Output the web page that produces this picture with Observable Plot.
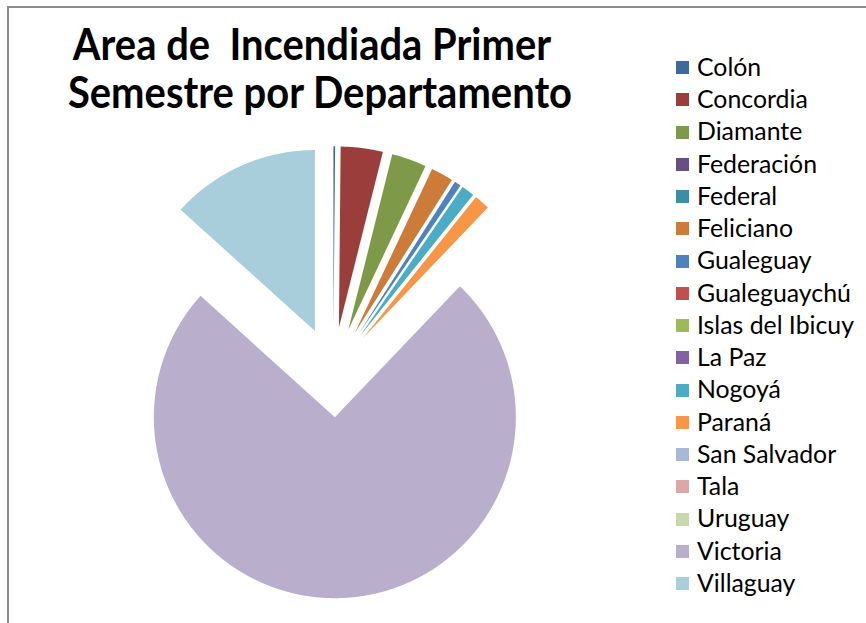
<!DOCTYPE html>
<html>
<head>
<meta charset="utf-8">
<script src="https://cdn.jsdelivr.net/npm/d3@7"></script>
<script src="https://cdn.jsdelivr.net/npm/@observablehq/plot@0.6"></script>
<style>
  html, body { margin: 0; padding: 0; background: #fff; }
  body { width: 866px; height: 623px; position: relative; overflow: hidden; font-family: Lato, "Open Sans", sans-serif; }
  #frame { position: absolute; left: 7px; top: 6px; width: 900px; height: 700px; border-top: 2px solid #8c8c8c; border-left: 2px solid #8c8c8c; }
  #chart { position: absolute; left: 140px; top: 125px; }
  .t { position: absolute; white-space: pre; color: #000; font-weight: 700; text-align: center; width: 640px; transform-origin: 50% 50%; }
  .lg { position: absolute; white-space: pre; color: #000; }
  .sw { position: absolute; width: 13px; height: 13px; }
</style>
</head>
<body>
<div id="frame"></div>
<div id="chart"></div>
<script>
// ---- data ----
const departments = ["Colón","Concordia","Diamante","Federación","Federal","Feliciano","Gualeguay","Gualeguaychú","Islas del Ibicuy","La Paz","Nogoyá","Paraná","San Salvador","Tala","Uruguay","Victoria","Villaguay"];
const hectares = [153, 3750, 3111, 0, 0, 1986, 583, 0, 0, 0, 1167, 1389, 0, 0, 0, 74556, 13306];
const sliceColors = ["#3E699D","#9B3D3A","#7E9A48","#654F84","#3A8FA6","#CC7B38","#4F81BD","#C0504D","#9BBB59","#8064A2","#4BACC6","#F79646","#A7B9D9","#DBA8A7","#C7D8AC","#B9AFCC","#A8CEDC"];
const titleLines = ["Area de  Incendiada Primer", "Semestre por Departamento"];

// ---- geometry of exploded pie (unit radius) ----
const table = departments.map((name, i) => ({name, value: hectares[i]}));
const arcs = d3.pie().sort(null).value(d => d.value).startAngle(0).endAngle(2 * Math.PI)(table);
const explode = 45 / 181;
const pts = [];
for (const a of arcs) {
  const m = (a.startAngle + a.endAngle) / 2;
  const ox = explode * Math.sin(m), oy = explode * Math.cos(m);
  const name = a.data.name;
  pts.push({name, x: ox, y: oy});
  const n = Math.max(2, Math.ceil((a.endAngle - a.startAngle) / 0.005));
  for (let k = 0; k <= n; k++) {
    const t = a.startAngle + (a.endAngle - a.startAngle) * k / n;
    pts.push({name, x: ox + Math.sin(t), y: oy + Math.cos(t)});
  }
  pts.push({name, x: ox, y: oy});
}

const chart = Plot.plot({
  width: 400,
  height: 490,
  margin: 0,
  style: {background: "transparent"},
  x: {domain: [-1.0646, 1.1453], axis: null},
  y: {domain: [-1.3442, 1.3630], axis: null},
  color: {domain: departments, range: sliceColors},
  marks: [
    Plot.line(pts, {x: "x", y: "y", z: "name", fill: "name", stroke: "none", curve: "linear"})
  ]
});
document.getElementById("chart").appendChild(chart);

// ---- text helpers ----
const ctx = document.createElement("canvas").getContext("2d");
function fit(text, font, target) {
  ctx.font = font.replace("SIZE", "100px");
  return 100 * target / ctx.measureText(text).width;
}
function metrics(font, size) {
  ctx.font = font.replace("SIZE", size + "px");
  const m = ctx.measureText("HxgÁ");
  return {fa: m.fontBoundingBoxAscent, fd: m.fontBoundingBoxDescent};
}
function placeBaseline(el, size, baseline, font) {
  const {fa, fd} = metrics(font, size);
  el.style.fontSize = size + "px";
  el.style.lineHeight = size + "px";
  el.style.top = (baseline - ((size - (fa + fd)) / 2 + fa)) + "px";
}

// ---- title ----
const titleFont = "700 SIZE Lato";
const stretch = 1.08;
const tSize = fit(titleLines[1], titleFont, 505) * stretch;
const titleCenters = [311.5, 319.5];
const titleBaselines = [61, 109];
titleLines.forEach((line, i) => {
  const d = document.createElement("div");
  d.className = "t";
  d.textContent = line;
  d.style.left = (titleCenters[i] - 320) + "px";
  d.style.transform = `scaleX(${1 / stretch})`;
  placeBaseline(d, tSize, titleBaselines[i], titleFont);
  document.body.appendChild(d);
});

// ---- legend ----
const legendFont = "400 SIZE Lato";
const lSize = fit("Gualeguaychú", legendFont, 154);
const capH = 0.716 * lSize;
departments.forEach((name, i) => {
  const cy = 67.5 + 32.25 * i;
  const sw = document.createElement("div");
  sw.className = "sw";
  sw.style.left = "676px";
  sw.style.top = (cy - 6.5) + "px";
  sw.style.background = sliceColors[i];
  document.body.appendChild(sw);
  const t = document.createElement("div");
  t.className = "lg";
  t.textContent = name;
  t.style.left = "697px";
  placeBaseline(t, lSize, cy + capH / 2, legendFont);
  document.body.appendChild(t);
});
</script>
</body>
</html>
